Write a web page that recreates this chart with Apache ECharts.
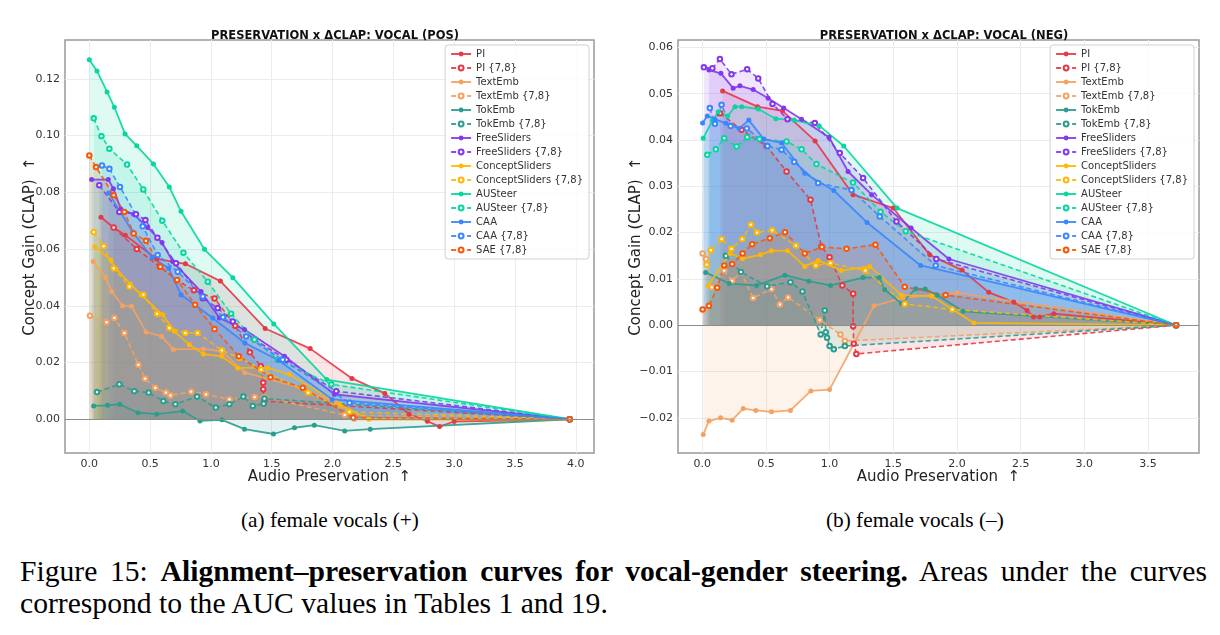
<!DOCTYPE html>
<html>
<head>
<meta charset="utf-8">
<script src="https://cdn.jsdelivr.net/npm/echarts@6/dist/echarts.min.js"></script>
<style>
  html, body { margin: 0; padding: 0; background: #fff; }
  #wrap { position: relative; width: 1220px; height: 635px; overflow: hidden; }
  #chart { position: absolute; left: 0; top: 0; width: 1220px; height: 500px; }
  .cap { position: absolute; font-family: 'Liberation Serif', serif; color: #000; white-space: nowrap; line-height: 1; }
  .sub { font-size: 22px; top: 510px; }
  #fig1 { left: 20px; top: 557px; font-size: 26px; }
  #fig2 { left: 20px; top: 589px; font-size: 26px; }
</style>
</head>
<body>
<div id="wrap">
  <div id="chart"></div>
  <div class="cap sub" id="subA">(a) female vocals (+)</div>
  <div class="cap sub" id="subB">(b) female vocals (–)</div>
  <div class="cap" id="fig1">Figure 15: <b>Alignment–preservation curves for vocal-gender steering.</b> Areas under the curves</div>
  <div class="cap" id="fig2">correspond to the AUC values in Tables 1 and 19.</div>
</div>
<script>
// ---- (a) VOCAL (POS): [audio preservation, concept gain]
const posPI = [[0.096,0.0712],[0.2,0.0676],[0.296,0.0649],[0.554,0.0565],[0.79,0.0548],[1.078,0.0487],[1.446,0.032],[1.816,0.0249],[2.16,0.0144],[2.43,0.0091],[2.63,0.0018],[2.78,-0.0007],[2.88,-0.0026],[3.0,-0.0008],[3.95,0]];
const posPI78 = [[0.2,0.0676],[0.39,0.060],[0.58,0.0538],[0.72,0.049],[0.86,0.0455],[1.03,0.0426],[1.2,0.033],[1.32,0.0236],[1.41,0.0187],[1.43,0.0129],[1.43,0.0106],[1.44,0.0064],[3.95,0]];
const posTextEmb = [[0.033,0.0556],[0.132,0.050],[0.184,0.045],[0.274,0.040],[0.348,0.0398],[0.466,0.0308],[0.595,0.0292],[0.69,0.0246],[0.938,0.0248],[1.09,0.0239],[1.28,0.0164],[1.74,0.0111],[2.03,0.0058],[2.14,0.0026],[2.18,0],[3.95,0]];
const posTextEmb78 = [[0.005,0.0365],[0.142,0.0342],[0.206,0.0357],[0.288,0.0304],[0.403,0.0192],[0.458,0.0143],[0.543,0.0111],[0.63,0.0094],[0.667,0.0084],[0.837,0.0097],[0.96,0.0088],[1.152,0.007],[1.36,0.0078],[1.44,0.0078],[2.1,0.0015],[3.95,0]];
const posTokEmb = [[0.036,0.0047],[0.15,0.0049],[0.25,0.0053],[0.40,0.0023],[0.554,0.0018],[0.768,0.0029],[0.91,-0.0006],[1.09,-0.0002],[1.276,-0.0035],[1.514,-0.0052],[1.687,-0.003],[1.85,-0.0021],[2.1,-0.0041],[2.31,-0.0035],[3.95,0]];
const posTokEmb78 = [[0.063,0.0096],[0.247,0.0123],[0.37,0.0099],[0.488,0.0094],[0.609,0.0064],[0.708,0.0053],[0.886,0.008],[1.04,0.0041],[1.152,0.0053],[1.267,0.008],[1.344,0.0047],[1.434,0.0055],[1.44,0.0073],[3.95,0]];
const posFree = [[0.019,0.0845],[0.156,0.0845],[0.198,0.0813],[0.26,0.074],[0.365,0.0723],[0.48,0.0676],[0.598,0.0623],[0.686,0.0556],[0.919,0.045],[1.07,0.0357],[1.276,0.0316],[1.605,0.0222],[2.016,0.0088],[3.95,0]];
const posFree78 = [[0.082,0.0825],[0.247,0.0731],[0.384,0.0723],[0.461,0.0702],[0.56,0.064],[0.713,0.055],[0.933,0.0427],[1.056,0.0392],[1.18,0.0345],[1.358,0.0281],[1.62,0.021],[2.03,0.0099],[3.95,0]];
const posConcept = [[0.047,0.0608],[0.178,0.0561],[0.22,0.053],[0.337,0.0477],[0.425,0.0439],[0.603,0.0368],[0.70,0.031],[0.823,0.0263],[0.938,0.023],[1.09,0.0222],[1.22,0.0181],[1.468,0.0181],[1.646,0.0158],[2.058,0.0053],[2.3,0],[3.95,0]];
const posConcept78 = [[0.036,0.066],[0.118,0.061],[0.2,0.0532],[0.33,0.0468],[0.444,0.0439],[0.557,0.0372],[0.658,0.0322],[0.79,0.0304],[0.89,0.0304],[1.09,0.0243],[1.235,0.0216],[1.413,0.0175],[1.8,0.0094],[2.14,0.0026],[3.95,0]];
const posAU = [[0,0.1267],[0.063,0.1228],[0.146,0.1154],[0.206,0.110],[0.294,0.1006],[0.39,0.0964],[0.527,0.090],[0.658,0.0819],[0.754,0.0733],[0.947,0.0599],[1.18,0.0499],[1.517,0.0336],[1.953,0.014],[3.95,0]];
const posAU78 = [[0.036,0.1061],[0.10,0.0998],[0.165,0.0954],[0.31,0.0898],[0.444,0.081],[0.60,0.070],[0.774,0.0587],[0.974,0.0485],[1.166,0.0372],[1.358,0.0281],[1.55,0.021],[1.99,0.0123],[3.95,0]];
const posCAA = [[0.159,0.0798],[0.357,0.066],[0.516,0.057],[0.653,0.0532],[0.754,0.0439],[1.015,0.0357],[1.28,0.0269],[1.556,0.0208],[1.997,0.007],[3.95,0]];
const posCAA78 = [[0.104,0.0895],[0.165,0.0883],[0.252,0.0819],[0.439,0.068],[0.562,0.0579],[0.727,0.052],[0.933,0.0433],[1.1,0.036],[1.29,0.0292],[1.59,0.021],[2.14,0.0058],[3.95,0]];
const posSAE78 = [[0,0.093],[0.055,0.0889],[0.2,0.079],[0.288,0.0731],[0.365,0.0655],[0.466,0.0629],[0.584,0.0538],[0.722,0.0491],[0.87,0.0404],[1.03,0.0318],[1.23,0.0222],[1.49,0.0148],[1.755,0.0111],[2.17,0.0006],[3.95,0]];

// ---- (b) VOCAL (NEG)
const negPI = [[0.16,0.0506],[0.434,0.0472],[0.63,0.0463],[0.886,0.0398],[1.184,0.0282],[1.50,0.0253],[1.786,0.0152],[2.04,0.0119],[2.25,0.0071],[2.445,0.005],[2.55,0.0032],[2.60,0.0018],[2.65,0.0018],[2.76,0.0025],[3.72,0]];
const negPI78 = [[0.14,0.0458],[0.309,0.0422],[0.505,0.0387],[0.662,0.0332],[0.85,0.0271],[0.936,0.017],[1.0,0.0147],[1.10,0.0086],[1.185,0.0068],[1.185,-0.0002],[1.19,-0.004],[1.21,-0.0062],[3.72,0]];
const negTextEmb = [[0.008,-0.0236],[0.053,-0.0207],[0.144,-0.02],[0.235,-0.0205],[0.322,-0.018],[0.421,-0.0184],[0.544,-0.0187],[0.693,-0.0184],[0.853,-0.0142],[1.0,-0.0139],[1.349,0.0042],[1.577,0.0059],[2.0,0.007],[3.72,0]];
const negTextEmb78 = [[0.003,0.0155],[0.03,0.0143],[0.074,0.0082],[0.173,0.0118],[0.235,0.0096],[0.304,0.0114],[0.40,0.0059],[0.544,0.0078],[0.61,0.0045],[0.675,0.006],[0.923,0.0011],[1.085,-0.002],[1.12,-0.0034],[3.72,0]];
const negTokEmb = [[0.027,0.0114],[0.212,0.009],[0.427,0.0086],[0.649,0.0108],[0.837,0.0095],[1.007,0.0086],[1.263,0.0103],[1.39,0.0103],[1.433,0.0077],[1.564,0.0047],[1.676,0.0079],[1.75,0.0078],[1.846,0.0065],[2.047,0.003],[3.72,0]];
const negTokEmb78 = [[0.186,0.015],[0.304,0.0115],[0.51,0.0084],[0.693,0.0093],[0.787,0.0073],[0.93,-0.002],[0.962,0.0032],[0.97,-0.0015],[0.98,-0.0027],[1.0,-0.0045],[1.033,-0.0052],[1.12,-0.0045],[3.72,0]];
const negFree = [[0.053,0.0551],[0.147,0.0544],[0.243,0.0512],[0.296,0.0517],[0.40,0.0509],[0.518,0.049],[0.64,0.0469],[0.78,0.0445],[0.996,0.0406],[1.145,0.0332],[1.33,0.0282],[1.64,0.021],[1.937,0.0143],[3.72,0]];
const negFree78 = [[0.013,0.0557],[0.08,0.0555],[0.139,0.0575],[0.23,0.0542],[0.353,0.0553],[0.44,0.0533],[0.552,0.0478],[0.67,0.0445],[0.884,0.0437],[1.08,0.0372],[1.263,0.0318],[1.525,0.0224],[1.838,0.0143],[3.72,0]];
const negConcept = [[0.047,0.0086],[0.217,0.0155],[0.317,0.0144],[0.458,0.0152],[0.544,0.0161],[0.67,0.0161],[0.805,0.0127],[0.91,0.014],[1.093,0.0118],[1.315,0.0127],[1.564,0.0065],[1.80,0.0063],[2.133,0.0005],[3.72,0]];
const negConcept78 = [[0.035,0.0131],[0.068,0.0162],[0.152,0.0186],[0.23,0.0165],[0.314,0.0186],[0.382,0.0217],[0.43,0.02],[0.55,0.0205],[0.735,0.0172],[0.892,0.0129],[1.007,0.0134],[1.28,0.0118],[1.59,0.0046],[1.963,0.0034],[3.72,0]];
const negAU = [[0.008,0.0404],[0.08,0.0442],[0.126,0.0461],[0.2,0.0452],[0.257,0.0472],[0.31,0.0472],[0.44,0.0467],[0.578,0.0446],[0.72,0.0443],[0.918,0.0431],[1.111,0.0387],[1.53,0.0253],[3.72,0]];
const negAU78 = [[0.04,0.0368],[0.107,0.038],[0.173,0.0404],[0.27,0.0386],[0.353,0.0406],[0.45,0.0402],[0.662,0.0397],[0.78,0.038],[0.897,0.0348],[1.184,0.0308],[1.4,0.0245],[1.598,0.0203],[3.72,0]];
const negCAA = [[0.003,0.0437],[0.04,0.0452],[0.1,0.0445],[0.186,0.0436],[0.29,0.0425],[0.366,0.0443],[0.484,0.0402],[0.623,0.0394],[0.805,0.0328],[1.033,0.0291],[1.294,0.0222],[1.715,0.0129],[3.72,0]];
const negCAA78 = [[0.06,0.0469],[0.1,0.0435],[0.152,0.0476],[0.223,0.043],[0.35,0.0425],[0.513,0.0387],[0.623,0.0379],[0.722,0.0353],[0.91,0.0307],[1.172,0.0292],[1.394,0.0235],[1.833,0.0129],[3.72,0]];
const negSAE78 = [[0.003,0.0034],[0.053,0.0042],[0.118,0.0081],[0.173,0.0129],[0.235,0.0132],[0.317,0.0155],[0.392,0.0175],[0.531,0.0188],[0.65,0.0201],[0.805,0.0155],[0.94,0.0169],[1.133,0.0165],[1.36,0.0174],[1.59,0.0083],[1.911,0.0065],[3.72,0]];

const xTicks = [0, 0.5, 1, 1.5, 2, 2.5, 3, 3.5, 4];
const xTicksNeg = [0, 0.5, 1, 1.5, 2, 2.5, 3, 3.5];
const yTicksPos = [0, 0.02, 0.04, 0.06, 0.08, 0.10, 0.12];
const yTicksNeg = [-0.02, -0.01, 0, 0.01, 0.02, 0.03, 0.04, 0.05, 0.06];

const methods = [
    { name: 'PI', color: '#e63946', dashed: false, pos: posPI, neg: negPI },
    { name: 'PI {7,8}', color: '#e63946', dashed: true, pos: posPI78, neg: negPI78 },
    { name: 'TextEmb', color: '#f4a261', dashed: false, pos: posTextEmb, neg: negTextEmb },
    { name: 'TextEmb {7,8}', color: '#f4a261', dashed: true, pos: posTextEmb78, neg: negTextEmb78 },
    { name: 'TokEmb', color: '#2a9d8f', dashed: false, pos: posTokEmb, neg: negTokEmb },
    { name: 'TokEmb {7,8}', color: '#2a9d8f', dashed: true, pos: posTokEmb78, neg: negTokEmb78 },
    { name: 'FreeSliders', color: '#8338ec', dashed: false, pos: posFree, neg: negFree },
    { name: 'FreeSliders {7,8}', color: '#8338ec', dashed: true, pos: posFree78, neg: negFree78 },
    { name: 'ConceptSliders', color: '#ffb703', dashed: false, pos: posConcept, neg: negConcept },
    { name: 'ConceptSliders {7,8}', color: '#ffb703', dashed: true, pos: posConcept78, neg: negConcept78 },
    { name: 'AUSteer', color: '#06d6a0', dashed: false, pos: posAU, neg: negAU },
    { name: 'AUSteer {7,8}', color: '#06d6a0', dashed: true, pos: posAU78, neg: negAU78 },
    { name: 'CAA', color: '#3a86ff', dashed: false, pos: posCAA, neg: negCAA },
    { name: 'CAA {7,8}', color: '#3a86ff', dashed: true, pos: posCAA78, neg: negCAA78 },
    { name: 'SAE {7,8}', color: '#fb5607', dashed: true, pos: posSAE78, neg: negSAE78 }
];

const FONT = 'DejaVu Sans';

function makeSeries(m, idx, data) {
    return {
        name: m.name,
        type: 'line',
        xAxisIndex: idx,
        yAxisIndex: idx,
        data: data,
        symbol: m.dashed ? 'emptyCircle' : 'circle',
        symbolSize: m.dashed ? 4.5 : 5,
        lineStyle: { color: m.color, width: m.dashed ? 1.6 : 1.8, type: m.dashed ? [5, 3] : 'solid', opacity: 0.9 },
        itemStyle: { color: m.color, borderWidth: m.dashed ? 1 : 0 },
        areaStyle: { color: m.color, opacity: 0.13 },
        emphasis: { disabled: true }
    };
}

const zeroLine = {
    silent: true,
    symbol: 'none',
    label: { show: false },
    lineStyle: { color: '#8c8c8c', type: 'solid', width: 1.2 },
    data: [{ yAxis: 0 }]
};

let series = [];
methods.forEach(m => series.push(makeSeries(m, 0, m.pos)));
methods.forEach(m => series.push(makeSeries(m, 1, m.neg)));
series[0].markLine = zeroLine;
series[methods.length].markLine = zeroLine;

function xAxisCfg(gridIndex, min, max, ticks) {
    return {
        type: 'value', gridIndex: gridIndex, min: min, max: max,
        name: 'Audio Preservation  \u2191', nameLocation: 'middle', nameGap: 17, nameMoveOverlap: false,
        nameTextStyle: { fontFamily: FONT, fontSize: 15, color: '#222' },
        axisLine: { show: false },
        axisTick: { show: false, customValues: ticks },
        axisLabel: { customValues: ticks, fontFamily: FONT, fontSize: 11, color: '#333', margin: 6,
            formatter: v => v.toFixed(1) },
        splitLine: { show: true, lineStyle: { color: '#ececec', width: 1 } }
    };
}
function yAxisCfg(gridIndex, min, max, ticks, gap) {
    return {
        type: 'value', gridIndex: gridIndex, min: min, max: max,
        name: 'Concept Gain (CLAP)  \u2191', nameLocation: 'middle', nameGap: gap, nameMoveOverlap: false,
        nameTextStyle: { fontFamily: FONT, fontSize: 15, color: '#222' },
        axisLine: { show: false },
        axisTick: { show: false, customValues: ticks },
        axisLabel: { customValues: ticks, fontFamily: FONT, fontSize: 11, color: '#333', margin: 5,
            formatter: v => (v < -1e-9 ? '\u2212' + Math.abs(v).toFixed(2) : Math.abs(v).toFixed(2)) },
        splitLine: { show: true, lineStyle: { color: '#ececec', width: 1 } }
    };
}

function legendCfg(right) {
    return {
        orient: 'vertical', top: 45, right: right,
        data: methods.map(m => m.name),
        itemWidth: 20, itemHeight: 6, itemGap: 4,
        padding: [4, 6, 4, 5],
        backgroundColor: 'rgba(255,255,255,0.85)',
        borderColor: '#d0d0d0', borderWidth: 1, borderRadius: 3,
        textStyle: { fontFamily: FONT, fontSize: 10, color: '#333', lineHeight: 10 },
        selectedMode: false
    };
}

const option = {
    animation: false,
    backgroundColor: '#fff',
    title: [
        { text: 'PRESERVATION x \u0394CLAP: VOCAL (POS)', left: 330, top: 25, textAlign: 'center',
          textStyle: { fontFamily: FONT, fontSize: 11.5, fontWeight: 'bold', color: '#111' } },
        { text: 'PRESERVATION x \u0394CLAP: VOCAL (NEG)', left: 939, top: 25, textAlign: 'center',
          textStyle: { fontFamily: FONT, fontSize: 11.5, fontWeight: 'bold', color: '#111' } }
    ],
    legend: [legendCfg(631), legendCfg(26)],
    grid: [
        { left: 65, top: 40, width: 529, height: 413, show: true, borderColor: '#999', borderWidth: 1.5, backgroundColor: '#fff' },
        { left: 678, top: 40, width: 521, height: 413, show: true, borderColor: '#999', borderWidth: 1.5, backgroundColor: '#fff' }
    ],
    xAxis: [xAxisCfg(0, -0.2, 4.15, xTicks), xAxisCfg(1, -0.19, 3.9, xTicksNeg)],
    yAxis: [yAxisCfg(0, -0.0119, 0.1337, yTicksPos, 27), yAxisCfg(1, -0.0276, 0.0616, yTicksNeg, 34)],
    series: series
};

const chart = echarts.init(document.getElementById('chart'));
chart.setOption(option);

// size the serif captions from the widths they take in the figure
function fitFont(id, left, width) {
    const el = document.getElementById(id);
    const fs = parseFloat(getComputedStyle(el).fontSize);
    const size = fs * width / el.offsetWidth;
    el.style.fontSize = size + 'px';
    el.style.left = left + 'px';
    return size;
}
fitFont('subA', 241, 178);
fitFont('subB', 826, 178);
const capSize = fitFont('fig2', 20, 588);
const fig1 = document.getElementById('fig1');
fig1.style.fontSize = capSize + 'px';
const gaps = (fig1.textContent.match(/ /g) || []).length;
fig1.style.wordSpacing = ((1187 - fig1.offsetWidth) / gaps) + 'px';
</script>
</body>
</html>
